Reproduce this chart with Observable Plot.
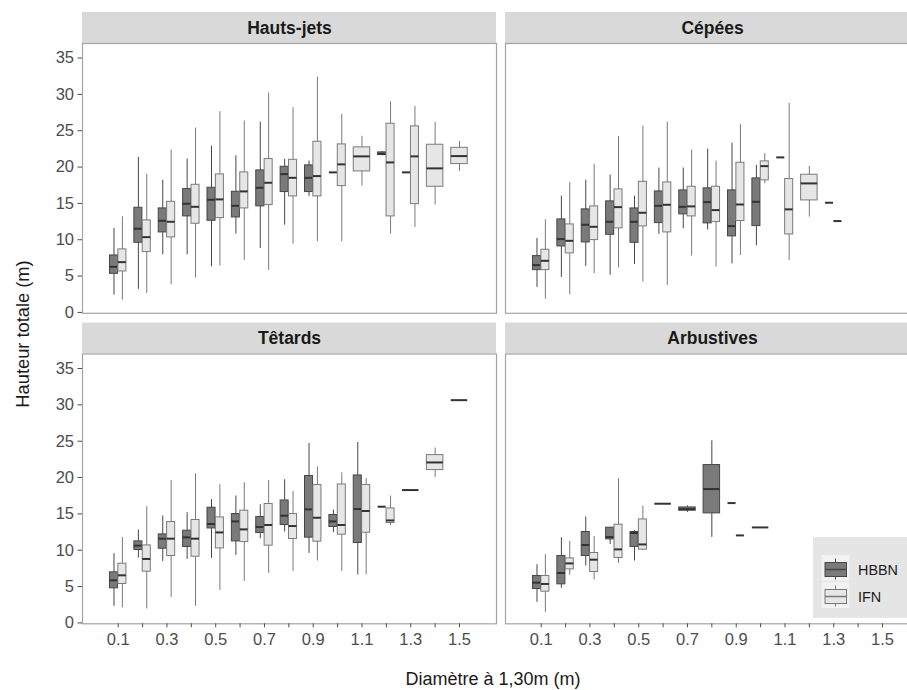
<!DOCTYPE html>
<html>
<head>
<meta charset="utf-8">
<script src="https://cdn.jsdelivr.net/npm/d3@7"></script>
<script src="https://cdn.jsdelivr.net/npm/@observablehq/plot@0.6"></script>
<style>
html, body { margin: 0; padding: 0; background: #fff; overflow: hidden; }
#chart { position: relative; width: 907px; height: 690px; overflow: hidden; }
#chart svg { max-width: none !important; }
</style>
</head>
<body>
<div id="chart"></div>
<script>
// ---- Data ----
const diameters = [0.1,0.2,0.3,0.4,0.5,0.6,0.7,0.8,0.9,1.0,1.1,1.2,1.3,1.4,1.5];
const xTickLabels = ["0.1","0.3","0.5","0.7","0.9","1.1","1.3","1.5"];
const yTicks = [0,5,10,15,20,25,30,35];
const facetNames = ["Hauts-jets","Cépées","Têtards","Arbustives"];
const groups = ["HBBN","IFN"];

// each entry: [lower whisker, Q1, median, Q3, upper whisker]; null = no data
const hautsJetsHBBN = [
  [2.38,5.31,6.28,7.84,11.56],[3.17,9.58,11.51,14.4,21.33],[7.93,11.01,12.61,14.31,18.2],
  [7.93,13.21,14.95,16.97,21.1],[6.28,12.61,15.5,17.15,22.89],[10.78,13.07,14.67,16.6,21.55],
  [8.81,14.59,17.15,19.54,26.19],[12.01,16.56,19.03,20.04,21.06],[15.96,16.56,18.52,20.23,20.82],
  [19.27,19.27,19.27,19.27,19.27],null,[21.56,21.65,21.83,22.02,22.16],
  [19.27,19.27,19.27,19.27,19.27],null,null];
const hautsJetsIFN = [
  [1.69,5.64,6.92,8.67,13.16],[2.61,8.3,10.36,12.66,19.03],[3.8,10.32,12.47,15.22,22.34],
  [4.72,12.2,14.53,17.56,25.36],[6.37,12.98,15.55,18.99,27.61],[7.16,14.31,16.65,19.27,26.33],
  [5.78,14.77,17.84,21.1,30.18],[9.4,15.96,18.52,21.0,28.16],[9.72,15.96,18.76,23.48,32.38],
  [9.72,17.38,20.37,23.12,27.25],[17.38,19.4,21.47,22.71,24.22],[10.78,13.21,20.64,25.96,28.98],
  [11.7,14.9,21.47,25.6,28.35],[14.77,17.29,19.82,23.07,26.15],[19.4,20.41,21.51,22.65,23.53]];
const cepeesHBBN = [
  [3.44,5.82,6.51,7.75,10.18],[4.82,9.08,10.09,12.8,16.0],[6.33,9.63,12.06,14.18,18.2],
  [5.13,10.68,12.47,15.28,18.9],[6.6,9.58,12.47,14.31,16.0],[10.73,12.29,14.67,16.65,19.86],
  [11.51,13.49,14.53,16.79,19.86],[11.33,12.25,15.18,17.07,22.47],[6.69,10.46,11.88,16.79,23.3],
  [9.17,11.88,15.22,18.44,20.23],[21.33,21.33,21.33,21.33,21.33],null,
  [15.09,15.09,15.09,15.09,15.09],null,null];
const cepeesIFN = [
  [1.83,5.82,7.1,8.62,12.74],[2.42,8.12,9.85,12.11,17.89],[5.31,9.95,11.78,14.59,20.37],
  [6.14,11.56,14.49,16.93,24.22],[4.17,11.84,13.71,17.97,25.64],[3.72,11.01,14.81,17.89,26.19],
  [7.75,13.21,14.59,17.29,22.34],[6.23,12.43,14.08,17.29,20.82],[7.84,12.57,14.85,20.59,25.87],
  [17.7,18.17,20.13,20.78,21.88],[7.16,10.73,14.18,18.35,28.76],[13.12,15.41,17.75,18.94,20.09],
  [12.57,12.57,12.57,12.57,12.57],null,null];
const tetardsHBBN = [
  [2.29,4.76,5.86,6.96,9.53],[8.93,10.03,10.63,11.22,12.78],[8.43,10.21,11.59,12.18,14.71],
  [8.74,10.45,11.77,12.69,15.16],[8.88,13.0,13.61,15.85,16.95],[9.29,11.22,13.97,14.98,17.46],
  [11.59,12.37,13.2,14.57,16.26],[12.51,13.47,14.75,16.85,19.7],[9.57,11.73,15.62,20.21,24.69],
  [12.41,13.2,13.97,14.85,15.53],[6.6,11.0,15.67,20.29,24.82],[15.99,15.99,15.99,15.99,15.99],
  [18.28,18.28,18.28,18.28,18.28],null,[30.65,30.65,30.65,30.65,30.65]];
const tetardsIFN = [
  [2.06,5.36,6.55,8.15,11.77],[1.92,7.05,8.8,10.67,15.99],[3.52,9.21,11.59,13.88,19.6],
  [2.29,9.11,11.59,14.16,20.52],[4.48,10.25,12.45,14.52,19.01],[5.72,11.13,12.87,15.44,19.29],
  [6.82,10.63,13.47,16.36,19.6],[7.09,11.55,13.33,14.98,18.09],[8.52,11.18,14.47,18.97,21.48],
  [7.09,12.14,13.47,19.05,20.66],[6.6,12.41,15.4,18.97,19.84],[13.37,13.75,14.1,15.76,17.46],
  null,[20.01,21.03,22.08,23.09,24.05],null];
const arbustivesHBBN = [
  [2.83,4.67,5.54,6.46,8.01],[4.76,5.31,6.87,9.21,11.73],[7.83,9.21,10.72,12.51,14.57],
  [10.8,11.49,11.82,13.1,13.14],[8.52,10.45,12.37,12.51,12.69],[16.4,16.4,16.4,16.4,16.4],
  [15.2,15.44,15.66,15.89,16.1],[11.77,15.07,18.42,21.72,25.06],[16.49,16.49,16.49,16.49,16.49],
  [13.14,13.14,13.14,13.14,13.14],null,null,null,null,null];
const arbustivesIFN = [
  [1.46,4.3,5.36,6.46,9.39],[6.55,7.37,8.19,8.88,11.22],[5.91,7.01,8.7,9.62,11.9],
  [8.19,8.93,10.12,13.51,19.84],[9.94,10.08,10.8,14.24,16.08],null,
  null,null,[12.04,12.04,12.04,12.04,12.04],null,null,null,null,null,null];

const facetSeries = [
  [hautsJetsHBBN, hautsJetsIFN],
  [cepeesHBBN, cepeesIFN],
  [tetardsHBBN, tetardsIFN],
  [arbustivesHBBN, arbustivesIFN]
];

// ---- Styles / layout ----
const groupFill = {HBBN: "#7a7a7a", IFN: "#e6e6e6"};
const groupStroke = {HBBN: "#474747", IFN: "#7a7a7a"};
const xDomain = [-0.0464, 1.6518];
const yDomain = [-0.12, 37.0];
const panelPx = 269.8, stripPx = 31;
const stripUnits = stripPx * (yDomain[1] - yDomain[0]) / panelPx;
const dodge = 0.0172, halfNarrow = 0.0165, halfWide = 0.0338;

// ---- Build table ----
const rows = [];
facetNames.forEach((name, f) => {
  diameters.forEach((d, i) => {
    const present = groups.filter((g, gi) => facetSeries[f][gi][i]);
    present.forEach(g => {
      const v = facetSeries[f][groups.indexOf(g)][i];
      const n = present.length;
      const off = n === 2 ? (g === "HBBN" ? -dodge : dodge) : 0;
      const half = n === 2 ? halfNarrow : halfWide;
      rows.push({facet: name, col: f % 2, row: Math.floor(f / 2), group: g, x: d,
        cx: d + off, x1: d + off - half, x2: d + off + half,
        lo: v[0], q1: v[1], med: v[2], q3: v[3], hi: v[4]});
    });
  });
});
const strips = facetNames.map((name, f) => ({name, col: f % 2, row: Math.floor(f / 2),
  x1: xDomain[0], x2: xDomain[1], xm: (xDomain[0] + xDomain[1]) / 2,
  y1: yDomain[1], y2: yDomain[1] + stripUnits, ym: yDomain[1] + stripUnits / 2}));

const marks = [
  Plot.rect(strips, {x1: "x1", x2: "x2", y1: "y1", y2: "y2", fx: "col", fy: "row", fill: "#d9d9d9"}),
  Plot.text(strips, {x: "xm", y: "ym", text: "name", fx: "col", fy: "row", fontSize: 17.5,
    fontWeight: "bold", fill: "#1a1a1a"})
];
for (const g of groups) {
  const data = rows.filter(r => r.group === g);
  marks.push(Plot.ruleX(data, {x: "cx", y1: "lo", y2: "hi", fx: "col", fy: "row",
    stroke: groupStroke[g], strokeWidth: 1}));
}
for (const g of groups) {
  const data = rows.filter(r => r.group === g);
  marks.push(Plot.rect(data, {x1: "x1", x2: "x2", y1: "q1", y2: "q3", fx: "col", fy: "row",
    fill: groupFill[g], stroke: groupStroke[g], strokeWidth: 1}));
  marks.push(Plot.ruleY(data, {y: "med", x1: "x1", x2: "x2", fx: "col", fy: "row",
    stroke: "#333333", strokeWidth: 2}));
}
marks.push(Plot.frame({stroke: "#a3a3a3", strokeWidth: 1.2}));
marks.push(Plot.axisY({ticks: yTicks, tickSize: 4.5, tickPadding: 4, fontSize: 16.5,
  color: "#4d4d4d", label: null}));
marks.push(Plot.axisX({ticks: diameters, tickSize: 4, tickPadding: 5, fontSize: 16.5,
  color: "#4d4d4d", label: null,
  tickFormat: d => { const s = d.toFixed(1); return xTickLabels.includes(s) ? s : ""; }}));

const chart = Plot.plot({
  width: 919, height: 690,
  marginLeft: 82, marginRight: 0, marginTop: 43, marginBottom: 66.7,
  x: {domain: xDomain},
  y: {domain: yDomain},
  fx: {domain: [0, 1], axis: null, paddingInner: 9 / 423, paddingOuter: 0, round: false},
  fy: {domain: [0, 1], axis: null, paddingInner: 40.7 / 310.5, paddingOuter: 0, round: false},
  style: {fontFamily: "'Liberation Sans', Arial, sans-serif", background: "#fff", overflow: "visible", maxWidth: "none"},
  marks
});
chart.style.maxWidth = "none";
chart.style.width = "919px";
document.getElementById("chart").appendChild(chart);

// ---- Axis titles and legend ----
const svg = d3.select(chart);
svg.append("text").attr("x", 493).attr("y", 685).attr("text-anchor", "middle")
  .attr("font-size", 18).attr("fill", "#1a1a1a").text("Diamètre à 1,30m (m)");
svg.append("text").attr("transform", "translate(29,334) rotate(-90)").attr("text-anchor", "middle")
  .attr("font-size", 18.3).attr("fill", "#1a1a1a").text("Hauteur totale (m)");

const lg = svg.append("g");
lg.append("rect").attr("x", 813).attr("y", 537).attr("width", 120).attr("height", 81).attr("fill", "#e5e5e5");
const keyTops = [555, 582];
groups.forEach((g, i) => {
  const t = keyTops[i];
  lg.append("rect").attr("x", 821.5).attr("y", t).attr("width", 28).attr("height", 26).attr("fill", "#f2f2f2");
  lg.append("line").attr("x1", 835.5).attr("x2", 835.5).attr("y1", t + 3.5).attr("y2", t + 24.5)
    .attr("stroke", groupStroke[g]);
  lg.append("rect").attr("x", 825).attr("y", t + 7.5).attr("width", 21.5).attr("height", 14)
    .attr("fill", groupFill[g]).attr("stroke", groupStroke[g]);
  lg.append("line").attr("x1", 825).attr("x2", 846.5).attr("y1", t + 14.5).attr("y2", t + 14.5)
    .attr("stroke", groupStroke[g]).attr("stroke-width", 1.5);
  lg.append("text").attr("x", 858).attr("y", t + 19.5).attr("text-anchor", "start")
    .attr("font-size", 14.4).attr("fill", "#1a1a1a").text(g);
});
</script>
</body>
</html>
